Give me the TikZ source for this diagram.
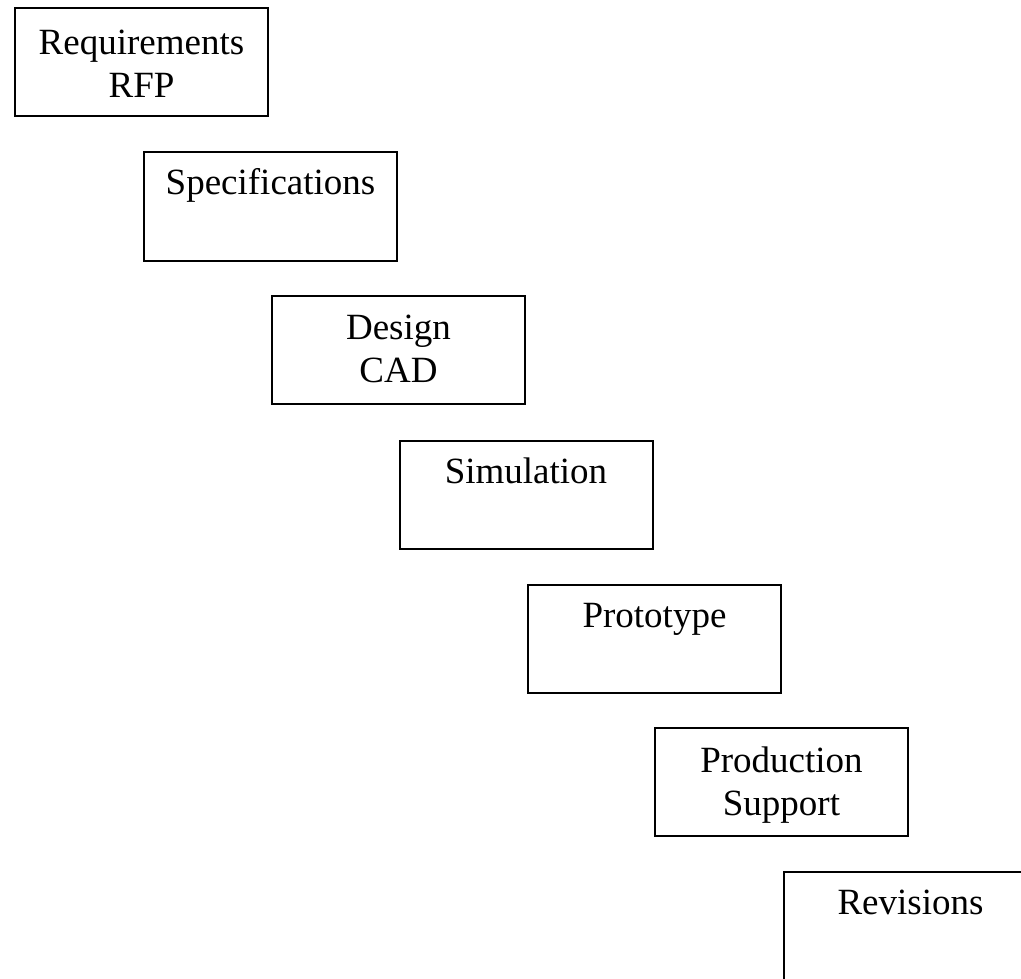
\documentclass[tikz,border=0pt]{standalone}
\usepackage{fontspec}
\setmainfont{Liberation Serif}
\tikzset{
  stagebox/.style={draw=black, line width=2pt, minimum width=253pt, minimum height=108pt, inner sep=0pt},
  stagetext/.style={anchor=base, inner sep=0pt, font=\fontsize{37}{43}\selectfont}
}
\begin{document}
\begin{tikzpicture}[x=1pt,y=-1pt]
\clip (0,0) rectangle (1021,979);
\fill[white] (0,0) rectangle (1021,979);
\node[stagebox] (b1) at (141.5,62) {};
\node[stagebox] (b2) at (270.5,206.5) {};
\node[stagebox] (b3) at (398.5,349.5) {};
\node[stagebox] (b4) at (526,494.5) {};
\node[stagebox] (b5) at (654.5,638.5) {};
\node[stagebox] (b6) at (781.5,782) {};
\node[stagebox] (b7) at (910.5,926) {};
\node[stagetext] (t1a) at (141.5,55) {Requirements};
\node[stagetext] (t1b) at (141.5,98) {RFP};
\node[stagetext] (t2) at (270.5,195) {Specifications};
\node[stagetext] (t3a) at (398.5,339) {Design};
\node[stagetext] (t3b) at (398.5,382) {CAD};
\node[stagetext] (t4) at (526,483) {Simulation};
\node[stagetext] (t5) at (654.5,627) {Prototype};
\node[stagetext] (t6a) at (781.5,772) {Production};
\node[stagetext] (t6b) at (781.5,815) {Support};
\node[stagetext] (t7) at (910.5,914) {Revisions};
\end{tikzpicture}
\end{document}
